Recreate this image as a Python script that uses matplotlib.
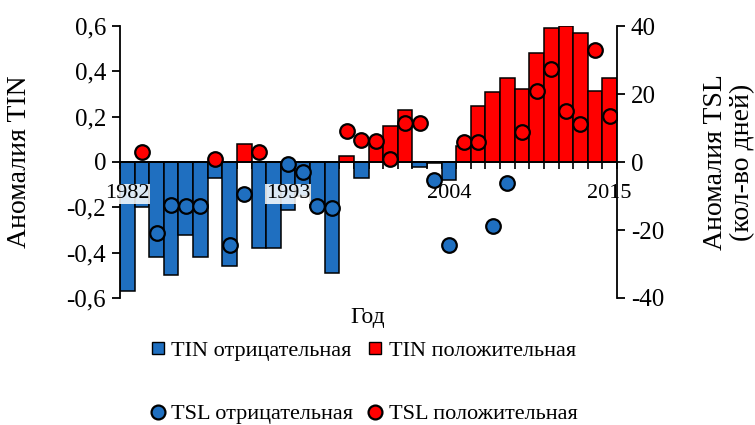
import numpy as np
import matplotlib
matplotlib.use('Agg')
import matplotlib.pyplot as plt
from matplotlib.lines import Line2D
from matplotlib.ticker import FixedLocator, FuncFormatter

plt.rcParams['font.family'] = ['Liberation Serif', 'DejaVu Serif']

years = np.arange(1982, 2016)

# TIN anomaly (left axis)
tin = [-0.57, -0.20, -0.42, -0.50, -0.32, -0.42, -0.07, -0.46, 0.08, -0.38,
       -0.38, -0.21, -0.15, -0.20, -0.49, 0.025, -0.07, 0.10, 0.16, 0.23,
       -0.02, -0.005, -0.08, 0.07, 0.245, 0.31, 0.37, 0.32, 0.48, 0.59,
       0.60, 0.57, 0.315, 0.37]

# TSL anomaly, days (right axis)
tsl = [np.nan, 3, -21, -12.5, -12.8, -12.8, 1, -24.5, -9.5, 3,
       np.nan, -0.5, -3, -13, -13.5, 9, 6.5, 6.3, 1, 11.5,
       11.5, -5.2, -24.3, 6, 6, -18.7, -6.2, 8.8, 21, 27.3,
       15, 11.3, 33, 13.4]

year_labels = ['1982', '1993', '2004', '2015']

blue = '#1f6fc0'
red = '#ff0000'
fs = 16       # year labels, axis title, legend
fs_y = 18     # y tick labels
fs_lab = 20   # y axis titles

tin = np.array(tin)
tsl = np.array(tsl)
x = np.arange(len(years))

fig = plt.figure(figsize=(7.55, 4.25), dpi=100)
ax = fig.add_axes([120/755, 1-298/425, 497/755, 272/425])
ax2 = ax.twinx()

# bars: negative / positive series
tin_neg = np.where(tin < 0, tin, 0)
tin_pos = np.where(tin >= 0, tin, 0)
ax.bar(x, tin_neg, width=1.0, color=blue, edgecolor='black', linewidth=1.1, zorder=2)
ax.bar(x, tin_pos, width=1.0, color=red, edgecolor='black', linewidth=1.1, zorder=2)

# circles: negative / positive
neg = tsl < 0
pos = tsl >= 0
ax2.plot(x[neg], tsl[neg], 'o', ms=10.5, mfc=blue, mec='black', mew=1.6, zorder=2)
ax2.plot(x[pos], tsl[pos], 'o', ms=10.5, mfc=red, mec='black', mew=1.6, zorder=2)

ax.set_xlim(-0.5, len(years) - 0.5)
ax.set_ylim(-0.6, 0.6)
ax2.set_ylim(-40, 40)

for a in (ax, ax2):
    a.spines['top'].set_visible(False)
    a.spines['bottom'].set_position(('data', 0))
ax2.spines['bottom'].set_visible(False)
ax2.spines['left'].set_visible(False)
ax.spines['right'].set_visible(False)
for a in (ax, ax2):
    for s in a.spines.values():
        s.set_linewidth(1.3)

# left axis ticks
ax.set_yticks(np.arange(-0.6, 0.61, 0.2))
ax.yaxis.set_major_formatter(FuncFormatter(
    lambda v, p: '0' if abs(v) < 1e-9 else ('%.1f' % v).replace('.', ',')))
ax.tick_params(axis='y', direction='out', length=6, width=1.3, labelsize=fs_y, pad=4)

# right axis ticks
ax2.set_yticks([-40, -20, 0, 20, 40])
ax2.yaxis.set_major_formatter(FuncFormatter(lambda v, p: '%d' % v))
ax2.tick_params(axis='y', direction='out', length=6, width=1.3, labelsize=fs_y, pad=4)

# x axis: tick marks between categories, labels on every 11th year
ax.xaxis.set_major_locator(FixedLocator([0, 11, 22, 33]))
ax.xaxis.set_minor_locator(FixedLocator(np.arange(-0.5, len(years), 1.0)))
ax.tick_params(axis='x', which='minor', direction='out', length=5, width=1.2)
ax.tick_params(axis='x', which='major', length=0, labelbottom=False)

ax2.xaxis.set_visible(True)
ax2.tick_params(axis='x', which='both', length=0, labelbottom=True, labelsize=fs, pad=16)
ax2.set_xticks([0, 11, 22, 33])
ax2.set_xticklabels(year_labels)
for lab in ax2.get_xticklabels():
    lab.set_bbox(dict(facecolor='white', edgecolor='none', alpha=0.85, pad=0.5))

ax.set_ylabel('Аномалия TIN', fontsize=fs_lab)
ax.yaxis.set_label_coords(-0.177, 0.5)
ax2.set_ylabel('Аномалия TSL\n(кол-во дней)', fontsize=fs_lab, linespacing=1.1)
ax2.yaxis.set_label_coords(1.173, 0.5)

fig.text(368/755, 1-318/425, 'Год', fontsize=17, ha='center', va='center')

handles = [
    Line2D([], [], ls='none', marker='s', ms=8, mfc=blue, mec='black', mew=1.0),
    Line2D([], [], ls='none', marker='o', ms=10, mfc=blue, mec='black', mew=1.6),
    Line2D([], [], ls='none', marker='s', ms=8, mfc=red, mec='black', mew=1.0),
    Line2D([], [], ls='none', marker='o', ms=10, mfc=red, mec='black', mew=1.6),
]
labels = ['TIN отрицательная', 'TSL отрицательная',
          'TIN положительная', 'TSL положительная']
fig.legend(handles, labels, ncol=2, loc='upper left',
           bbox_to_anchor=(151/755, 1-340/425), frameon=False, fontsize=fs,
           handlelength=0.6, handletextpad=0.3, columnspacing=0.7,
           labelspacing=1.95, borderpad=0, borderaxespad=0)

fig.savefig('out.png', dpi=100)
